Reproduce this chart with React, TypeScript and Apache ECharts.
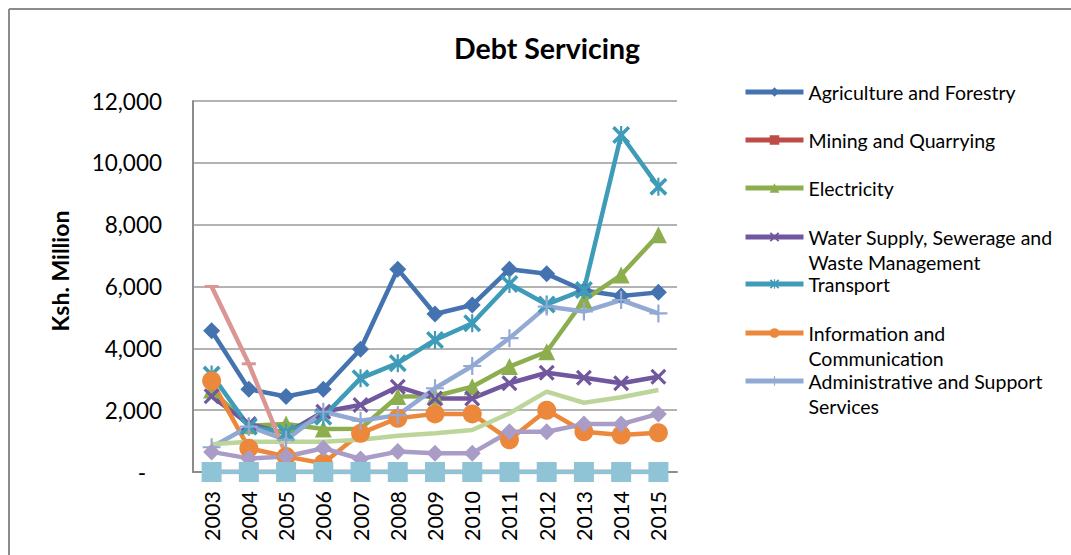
import React, { useEffect, useRef } from "react";
import * as echarts from "echarts";

const years = ["2003","2004","2005","2006","2007","2008","2009","2010","2011","2012","2013","2014","2015"];
const yTicks = [0, 2000, 4000, 6000, 8000, 10000, 12000];

const agriculture = [4570, 2680, 2440, 2680, 3970, 6560, 5110, 5400, 6560, 6410, 5870, 5690, 5810];
const mining = [0, 0, 0, 0, 0, 0, 0, 0, 0, 0, 0, 0, 0];
const electricity = [2650, 1500, 1550, 1390, 1400, 2440, 2450, 2760, 3410, 3890, 5560, 6370, 7670];
const water = [2450, 1550, 1250, 1950, 2170, 2760, 2380, 2380, 2870, 3210, 3050, 2870, 3080];
const transport = [3150, 1470, 1270, 1790, 3030, 3520, 4270, 4810, 6080, 5420, 5890, 10900, 9230];
const info = [2950, 770, 500, 280, 1250, 1740, 1880, 1880, 1040, 2000, 1300, 1200, 1270];
const admin = [800, 1470, 1040, 1950, 1660, 1840, 2710, 3430, 4330, 5350, 5190, 5560, 5130];
const series8 = [6000, 3500, 550, null, null, null, null, null, null, null, null, null, null];
const series9 = [900, 980, 980, 980, 1040, 1170, 1250, 1360, 1900, 2600, 2240, 2420, 2650];
const series10 = [650, 440, 500, 770, 420, 660, 610, 610, 1300, 1300, 1550, 1550, 1880];
const series11 = [0, 0, 0, 0, 0, 0, 0, 0, 0, 0, 0, 0, 0];

const legendNames = [
  "Agriculture and Forestry",
  "Mining and Quarrying",
  "Electricity",
  "Water Supply, Sewerage and Waste Management",
  "Transport",
  "Information and Communication",
  "Administrative and Support Services",
];
const legendLabels = [
  "Agriculture and Forestry",
  "Mining and Quarrying",
  "Electricity",
  "Water Supply, Sewerage and\nWaste Management",
  "Transport",
  "Information and\nCommunication",
  "Administrative and Support\nServices",
];

const X_PATH = "path://M0,1.4L1.4,0L5,3.6L8.6,0L10,1.4L6.4,5L10,8.6L8.6,10L5,6.4L1.4,10L0,8.6L3.6,5Z";
const STAR_PATH = "path://M0,1.4L1.4,0L5,3.6L8.6,0L10,1.4L6.4,5L10,8.6L8.6,10L5,6.4L1.4,10L0,8.6L3.6,5Z M4.4,0L5.6,0L5.6,10L4.4,10Z";
const PLUS_PATH = "path://M4.4,0L5.6,0L5.6,4.4L10,4.4L10,5.6L5.6,5.6L5.6,10L4.4,10L4.4,5.6L0,5.6L0,4.4L4.4,4.4Z";
const DASH_PATH = "path://M0,0L10,0L10,10L0,10Z";

const FONT = "Lato, 'Open Sans', sans-serif";

function mk(name: string, data: (number | null)[], color: string, symbol: string, size: number | number[], width = 4.5) {
  return {
    name,
    type: "line",
    data,
    symbol,
    symbolSize: size,
    showSymbol: true,
    connectNulls: false,
    lineStyle: { color, width },
    itemStyle: { color, borderWidth: 0 },
    emphasis: { disabled: true },
  };
}

export default function App() {
  const ref = useRef<HTMLDivElement>(null);
  useEffect(() => {
    if (!ref.current) return;
    const chart = echarts.init(ref.current, null, { renderer: "svg" });
    const centers = [92, 140, 188, 237, 284, 333, 381];
    const LH = 25;
    const legends = legendNames.map((n, i) => {
      const multi = legendLabels[i].includes("\n");
      return {
        left: 743,
        top: multi ? centers[i] - 1.5 * LH : centers[i] - LH / 2,
        padding: 0,
        itemWidth: 58,
        itemHeight: 12,
        itemGap: 0,
        data: [n],
        formatter: () => (multi ? "\n" + legendLabels[i] : legendLabels[i]),
        lineStyle: { width: 5 },
        textStyle: {
          fontFamily: FONT,
          fontSize: 19.5,
          color: "#000",
          lineHeight: LH,
        },
      };
    });
    chart.setOption({
      animation: false,
      backgroundColor: "#fff",
      title: {
        text: "Debt Servicing",
        left: 547,
        top: 33,
        textAlign: "center",
        padding: 0,
        textStyle: { fontFamily: FONT, fontSize: 28.5, fontWeight: "bold", color: "#000" },
      },
      legend: legends,
      grid: { left: 193, right: 394, top: 101, bottom: 83, containLabel: false },
      xAxis: {
        type: "category",
        data: years,
        boundaryGap: true,
        axisTick: { show: false },
        axisLine: { lineStyle: { color: "#8c8c8c", width: 2 } },
        axisLabel: { rotate: 90, margin: 19, fontFamily: FONT, fontSize: 21.5, color: "#000" },
        z: 1,
      },
      yAxis: {
        type: "value",
        min: yTicks[0],
        max: yTicks[yTicks.length - 1],
        interval: 2000,
        axisLine: { show: true, lineStyle: { color: "#8c8c8c", width: 2 } },
        axisTick: { show: false },
        splitLine: { lineStyle: { color: "#9a9a9a", width: 1.5 } },
        axisLabel: {
          margin: 31,
          fontFamily: FONT,
          fontSize: 22.5,
          color: "#000",
          formatter: (v: number) => (v === 0 ? "{z|-}" : v.toLocaleString("en-US")),
          rich: { z: { fontFamily: FONT, fontSize: 22.5, color: "#000", padding: [0, 16, 0, 0] } },
        },
      },
      graphic: [
        { type: "line", shape: { x1: 9, y1: 9, x2: 1071, y2: 9 }, style: { stroke: "#8c8c8c", lineWidth: 2 } },
        { type: "line", shape: { x1: 9, y1: 9, x2: 9, y2: 555 }, style: { stroke: "#8c8c8c", lineWidth: 2 } },
        {
          type: "text",
          x: 60,
          y: 271,
          rotation: Math.PI / 2,
          style: {
            text: "Ksh. Million",
            align: "center",
            verticalAlign: "middle",
            fontFamily: FONT,
            fontSize: 23,
            fontWeight: "bold",
            fill: "#000",
          },
        },
      ],
      series: [
        mk(legendNames[0], agriculture, "#4473B0", "diamond", 17),
        mk(legendNames[1], mining, "#BE4B48", "rect", 14),
        mk(legendNames[2], electricity, "#8DAE4F", "triangle", 17),
        mk(legendNames[3], water, "#71579D", X_PATH, 16),
        mk(legendNames[4], transport, "#3E9CB8", STAR_PATH, 18),
        mk(legendNames[5], info, "#EB883C", "circle", 19),
        mk(legendNames[6], admin, "#92A9D4", PLUS_PATH, 18),
        mk("Manufacturing", series8, "#D99694", DASH_PATH, [14, 3]),
        mk("Construction", series9, "#BCD59A", "none", 1),
        mk("Wholesale and Retail Trade", series10, "#A99CC6", "diamond", 17),
        mk("Financial and Insurance", series11, "#8FC3D6", "rect", 20),
      ],
    });
    return () => chart.dispose();
  }, []);
  return <div ref={ref} style={{ position: "absolute", left: 0, top: 0, width: 1071, height: 555 }} />;
}
